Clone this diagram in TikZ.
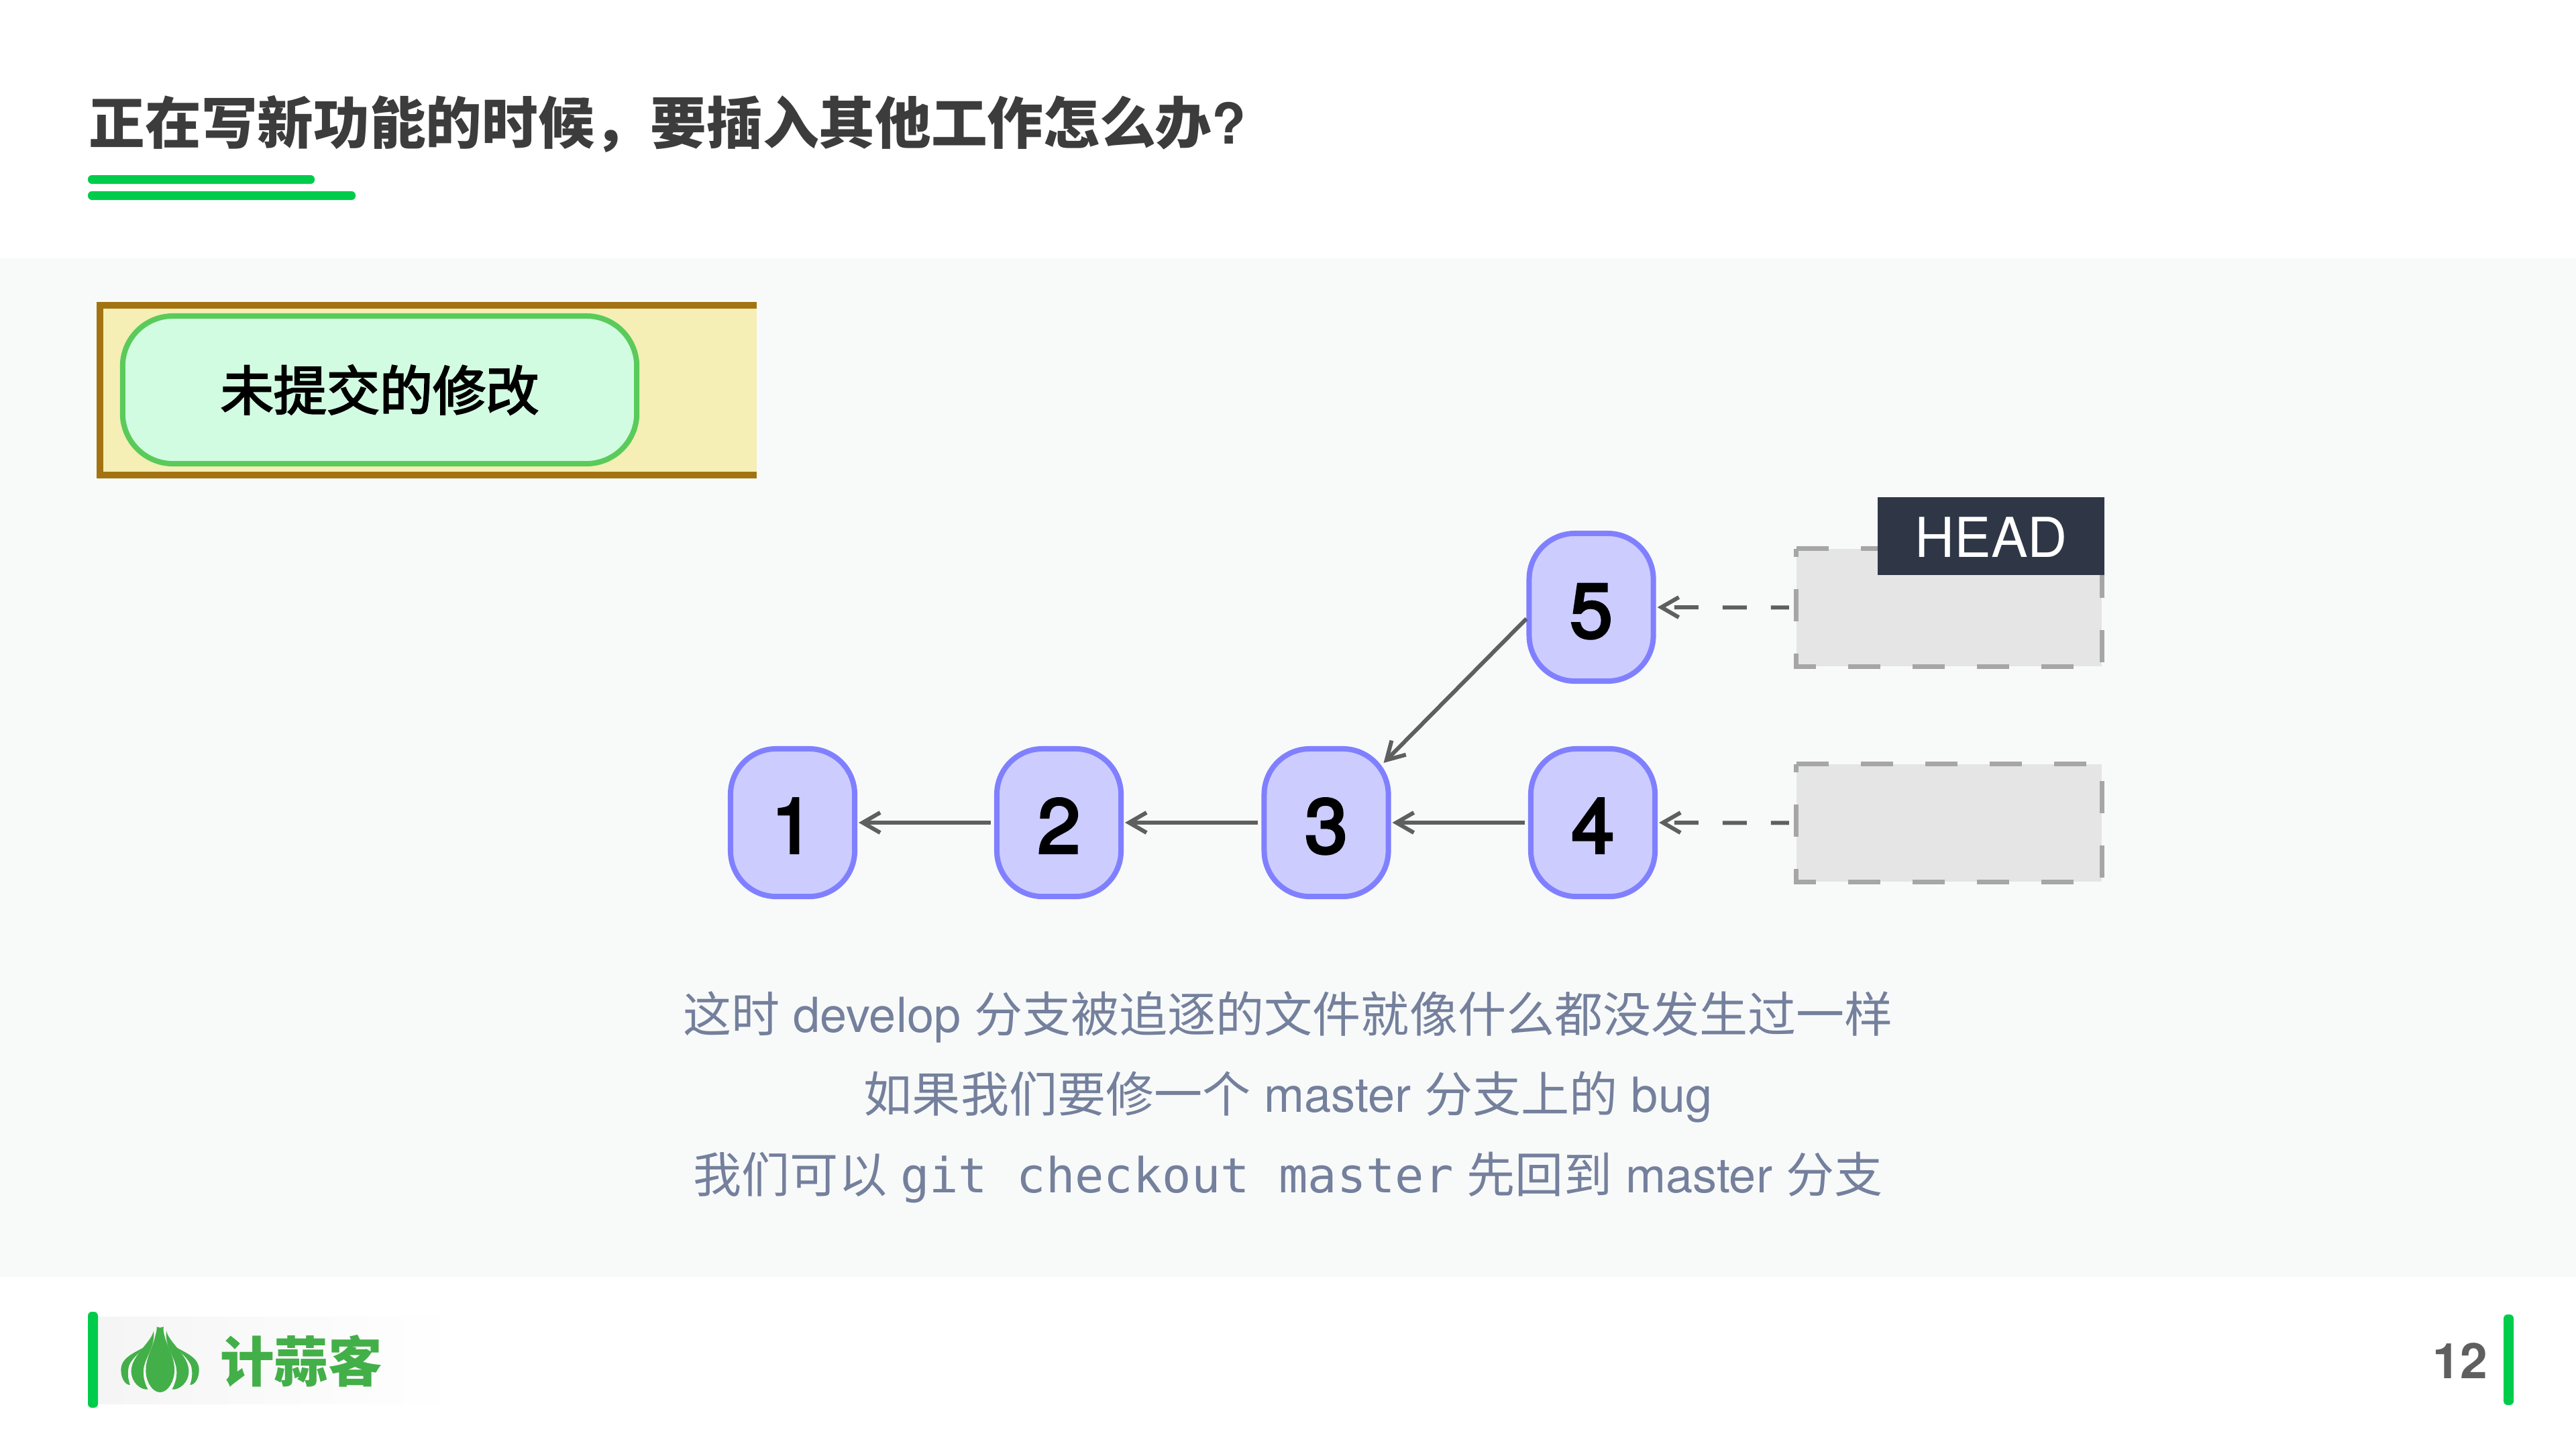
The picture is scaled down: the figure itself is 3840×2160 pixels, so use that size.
\documentclass[tikz,border=0pt]{standalone}
\usepackage{fontspec}
\usetikzlibrary{arrows.meta,calc}
\setmainfont{TeX Gyre Heros}
\setmonofont{DejaVu Sans Mono}
\newfontfamily\cjk{Noto Sans CJK SC}
\newfontfamily\cjkmid[FakeBold=3]{Noto Sans CJK SC}
\newfontfamily\digitfont[FakeBold=3.5]{TeX Gyre Heros}
\definecolor{panelbg}{HTML}{F8FAFA}
\definecolor{brandgreen}{HTML}{00CC4C}
\definecolor{logogreen}{HTML}{43AF48}
\definecolor{titlecol}{HTML}{3C3C3C}
\definecolor{bodycol}{HTML}{74809C}
\definecolor{linecol}{HTML}{5F5F5F}
\definecolor{stashbg}{HTML}{F5EEB5}
\definecolor{stashline}{HTML}{A37312}
\definecolor{changebg}{HTML}{D2FCE2}
\definecolor{changeline}{HTML}{5ACB5A}
\definecolor{commitbg}{HTML}{CCCCFF}
\definecolor{commitline}{HTML}{8080FF}
\definecolor{branchbg}{HTML}{E5E5E5}
\definecolor{branchline}{HTML}{A6A6A6}
\definecolor{headbg}{HTML}{2F3747}
\tikzset{
  commit/.style={draw=commitline,fill=commitbg,line width=0.08cm,rounded corners=0.68cm,
    minimum width=1.85cm,minimum height=2.2cm,inner sep=0pt,text height=0.9cm,text depth=0cm,
    font=\digitfont\fontsize{32.5}{36}\selectfont,text=black},
  branchbox/.style={fill=branchbg,minimum width=4.55cm,minimum height=1.75cm,inner sep=0pt,outer sep=0pt},
  branchdash/.style={draw=branchline,line width=0.07cm,dash pattern=on 0.48cm off 0.48cm},
  parentarrow/.style={draw=linecol,line width=0.06cm,-{Straight Barb[length=0.26cm,width=0.3cm]},
    shorten >=0.02cm,shorten <=0.05cm},
  refarrow/.style={draw=linecol,line width=0.06cm,-{Straight Barb[length=0.26cm,width=0.3cm]},
    dash pattern=on 0.36cm off 0.36cm,dash phase=0.09cm,shorten >=0.02cm,shorten <=0.11cm},
  bodytext/.style={text=bodycol,inner sep=0pt,font=\fontsize{20.5}{24}\selectfont,anchor=center},
  accent/.style={fill=brandgreen,rounded corners=0.06cm,inner sep=0pt,outer sep=0pt},
}
\newcommand{\garlicside}{%
  \fill[logogreen] (337,190) .. controls (330,240) and (250,300) .. (250,370)
    .. controls (250,420) and (285,455) .. (315,452)
    .. controls (300,420) and (295,390) .. (298,360)
    .. controls (303,310) and (345,260) .. (337,190) -- cycle;
  \fill[logogreen] (302,262) .. controls (260,290) and (210,310) .. (210,365)
    .. controls (210,400) and (225,432) .. (245,432)
    .. controls (240,410) and (233,390) .. (240,350)
    .. controls (247,320) and (280,290) .. (302,262) -- cycle;
}
\begin{document}
\begin{tikzpicture}[x=0.01cm,y=-0.01cm]
\useasboundingbox (0,0) rectangle (3840,2160);
\fill[white] (0,0) rectangle (3840,2160);
\fill[panelbg] (0,385) rectangle (3840,1903);

% title
\node[anchor=west,inner sep=0pt,text=titlecol,font=\fontsize{23.8}{28}\selectfont\bfseries] (title) at (132,185)
  {{\cjk\bfseries 正在写新功能的时候，要插入其他工作怎么办}?};
\fill[accent] (131,261) rectangle (469,274);
\fill[accent] (131,285) rectangle (530,298);

% stash box
\node[fill=stashbg,minimum width=9.79cm,minimum height=2.53cm,inner sep=0pt,outer sep=0pt] (stash) at (638.5,581.5) {};
\draw[stashline,line width=0.1cm] (stash.north east) -- (stash.north west) -- (stash.south west) -- (stash.south east);
\node[draw=changeline,fill=changebg,line width=0.08cm,rounded corners=0.75cm,minimum width=7.66cm,minimum height=2.2cm,
  inner sep=0pt,font=\fontsize{22.5}{26}\selectfont,text=black] (change) at (566,581) {\cjkmid 未提交的修改};

% commits
\node[commit] (c1) at (1181.5,1226) {1};
\node[commit] (c2) at (1578.5,1226) {2};
\node[commit] (c3) at (1977,1226) {3};
\node[commit] (c4) at (2374.5,1226) {4};
\node[commit] (c5) at (2372,905) {5};

% branch boxes
\node[branchbox] (b5) at (2905.5,905.5) {};
\draw[branchdash] (b5.north west) -- (b5.north east) -- (b5.south east) -- (b5.south west) -- cycle;
\node[branchbox] (b4) at (2905.5,1226.5) {};
\draw[branchdash] (b4.north west) -- (b4.north east) -- (b4.south east) -- (b4.south west) -- cycle;
\node[fill=headbg,text=white,minimum width=3.385cm,minimum height=1.165cm,inner sep=0pt,outer sep=0pt,
  text height=0.63cm,text depth=0cm,font=\fontsize{23.3}{26}\selectfont] (head) at (2968,799) {HEAD};

% connectors
\draw[parentarrow] (c2) -- (c1);
\draw[parentarrow] (c3) -- (c2);
\draw[parentarrow] (c4) -- (c3);
\draw[parentarrow,shorten >=0pt,shorten <=0pt] ([yshift=-0.17cm]c5.west) -- ([xshift=-0.11cm,yshift=-0.25cm]c3.north east);
\draw[refarrow] (b5.west) -- (c5.east);
\draw[refarrow] (b4.west) -- (c4.east);

% body text
\node[bodytext] (line1) at (1920,1516) {{\cjk 这时} develop {\cjk 分支被追逐的文件就像什么都没发生过一样}};
\node[bodytext] (line2) at (1920,1635) {{\cjk 如果我们要修一个} master {\cjk 分支上的} bug};
\node[bodytext] (line3) at (1920,1755) {{\cjk 我们可以} {\ttfamily git checkout master} {\cjk 先回到} master {\cjk 分支}};

% footer
\shade[left color=black!4,right color=white] (146,1962) rectangle (680,2092);
\fill[accent] (131,1955) rectangle (146,2098);
\begin{scope}[shift={(100,1920)},xscale=0.3827,yscale=0.3333]
  \fill[logogreen] (349,172) -- (362,176) -- (376,172) .. controls (374,185) and (376,200) .. (380,215)
    .. controls (390,260) and (420,310) .. (418,370) .. controls (418,410) and (395,465) .. (362,465)
    .. controls (330,465) and (305,410) .. (307,365) .. controls (307,310) and (335,260) .. (343,215)
    .. controls (347,200) and (350,185) .. (349,172) -- cycle;
  \garlicside
  \begin{scope}[shift={(724,0)},xscale=-1]
    \garlicside
  \end{scope}
\end{scope}
\node[inner sep=0pt,text=logogreen,font=\fontsize{22.9}{26}\selectfont\bfseries] (brand) at (449,2028) {\cjk\bfseries 计蒜客};
\node[inner sep=0pt,text=linecol,font=\fontsize{20.8}{24}\selectfont\bfseries] (page) at (3667,2028) {12};
\fill[accent] (3732,1959) rectangle (3747,2094);
\end{tikzpicture}
\end{document}
